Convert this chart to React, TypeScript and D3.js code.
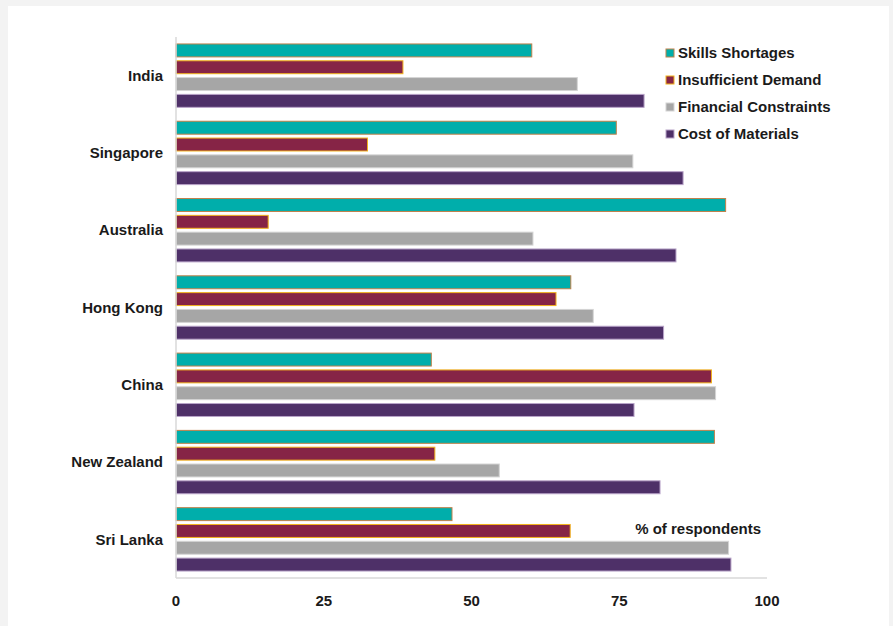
import React from "react";
import * as d3 from "d3";

const countries = ["India", "Singapore", "Australia", "Hong Kong", "China", "New Zealand", "Sri Lanka"];
const seriesNames = ["Skills Shortages", "Insufficient Demand", "Financial Constraints", "Cost of Materials"];
const skillsShortages = [60.2, 74.5, 93.0, 66.8, 43.2, 91.1, 46.7];
const insufficientDemand = [38.4, 32.4, 15.6, 64.3, 90.6, 43.8, 66.7];
const financialConstraints = [67.9, 77.3, 60.4, 70.6, 91.3, 54.7, 93.5];
const costOfMaterials = [79.2, 85.8, 84.6, 82.5, 77.5, 81.9, 93.9];
const xTicks = [0, 25, 50, 75, 100];
const axisTitle = "% of respondents";

const seriesValues = [skillsShortages, insufficientDemand, financialConstraints, costOfMaterials];
const fills = ["#00AEAB", "#862446", "#A6A6A6", "#4E3068"];
const strokes = ["#C0804A", "#F2B21B", "#D4D4D4", "#B8A3C8"];

const W = 893;
const H = 626;
const FONT = "'Liberation Sans', Arial, sans-serif";

export default function App() {
  const x = d3.scaleLinear().domain([0, 100]).range([176, 767]);
  const y = d3.scaleBand<string>().domain(countries).range([37, 578]).paddingInner(0.18).paddingOuter(0.09);
  const ys = d3.scaleBand<string>().domain(seriesNames).range([0, y.bandwidth()]).paddingInner(0.23);

  return (
    <svg width={W} height={H} style={{ position: "absolute", left: 0, top: 0 }} fontFamily={FONT}>
      <rect x={0} y={0} width={W} height={H} fill="#F3F3F3" />
      <rect x={8} y={6} width={881} height={H} fill="#FFFFFF" />
      {countries.map((c, i) => (
        <g key={c}>
          {seriesNames.map((s, j) => (
            <rect
              key={s}
              x={x(0)}
              y={(y(c) as number) + (ys(s) as number)}
              width={x(seriesValues[j][i]) - x(0)}
              height={ys.bandwidth()}
              fill={fills[j]}
              stroke={strokes[j]}
              strokeWidth={1}
            />
          ))}
          <text
            x={163}
            y={(y(c) as number) + y.bandwidth() / 2}
            dy="0.35em"
            textAnchor="end"
            fontWeight="bold"
            fontSize={15}
            fill="#1A1A1A"
          >
            {c}
          </text>
        </g>
      ))}
      <line x1={x(0)} x2={x(0)} y1={37} y2={578} stroke="#D9D9D9" strokeWidth={1.5} />
      <line x1={x(0)} x2={x(100)} y1={578} y2={578} stroke="#D9D9D9" strokeWidth={1.5} />
      {xTicks.map((t) => (
        <text key={t} x={x(t)} y={601} dy="0.35em" textAnchor="middle" fontWeight="bold" fontSize={15} fill="#1A1A1A">
          {t}
        </text>
      ))}
      <text x={761} y={529} dy="0.35em" textAnchor="end" fontWeight="bold" fontSize={15} fill="#1A1A1A">
        {axisTitle}
      </text>
      {seriesNames.map((s, j) => (
        <g key={s} transform={`translate(666, ${53 + j * 27})`}>
          <rect x={0} y={-4} width={8} height={8} fill={fills[j]} stroke={strokes[j]} strokeWidth={1} />
          <text x={12} y={0} dy="0.35em" fontWeight="bold" fontSize={15} fill="#1A1A1A">
            {s}
          </text>
        </g>
      ))}
    </svg>
  );
}
